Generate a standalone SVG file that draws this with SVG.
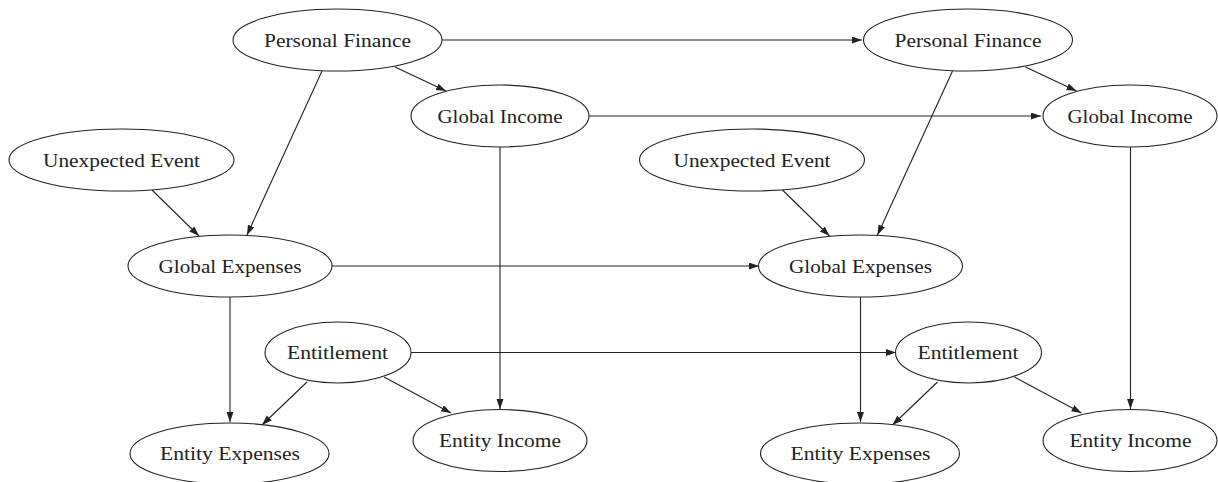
<svg xmlns="http://www.w3.org/2000/svg" width="1218" height="482" viewBox="0 0 1218 482">
<style>
.n ellipse{fill:#fff;stroke:#222;stroke-width:1.1}
.n text{font-family:"Liberation Serif","Times New Roman",serif;font-size:18px;fill:#222;text-anchor:middle}
.e line{stroke:#222;stroke-width:1.1;fill:none;marker-end:url(#ah)}
</style>
<defs>
<marker id="ah" markerUnits="userSpaceOnUse" markerWidth="11" markerHeight="8" refX="10" refY="3.5" orient="auto">
<path d="M0,0 L10,3.5 L0,7 z" fill="#222"/>
</marker>
</defs>
<rect width="1218" height="482" fill="#fff"/>
<g class="e" id="connectors">
<line x1="442" y1="40" x2="862" y2="40"/>
<line x1="589" y1="116" x2="1041" y2="116"/>
<line x1="332" y1="266" x2="759" y2="266"/>
<line x1="411" y1="352.5" x2="896" y2="352.5"/>
<line x1="395" y1="67" x2="446" y2="91"/>
<line x1="322" y1="71" x2="247" y2="235"/>
<line x1="152" y1="190" x2="199" y2="236"/>
<line x1="230" y1="297" x2="230" y2="422"/>
<line x1="500" y1="147" x2="500" y2="409"/>
<line x1="307" y1="382" x2="262" y2="425"/>
<line x1="384" y1="377" x2="451" y2="413"/>
<line x1="1025.5" y1="67" x2="1076.5" y2="91"/>
<line x1="952.5" y1="71" x2="877.5" y2="235"/>
<line x1="782.5" y1="190" x2="829.5" y2="236"/>
<line x1="860.5" y1="297" x2="860.5" y2="422"/>
<line x1="1130.5" y1="147" x2="1130.5" y2="409"/>
<line x1="937.5" y1="382" x2="892.5" y2="425"/>
<line x1="1014.5" y1="377" x2="1081.5" y2="413"/>
</g>
<g class="n" id="pf1"><ellipse cx="337.5" cy="40" rx="104.5" ry="31"/><text x="337.5" y="46.5" textLength="147" lengthAdjust="spacingAndGlyphs">Personal Finance</text></g>
<g class="n" id="gi1"><ellipse cx="500" cy="116" rx="89" ry="31"/><text x="500" y="122.5" textLength="125" lengthAdjust="spacingAndGlyphs">Global Income</text></g>
<g class="n" id="ue1"><ellipse cx="121.5" cy="160" rx="112.5" ry="31"/><text x="121.5" y="166.5" textLength="157" lengthAdjust="spacingAndGlyphs">Unexpected Event</text></g>
<g class="n" id="ge1"><ellipse cx="230" cy="266" rx="102" ry="31"/><text x="230" y="272.5" textLength="143" lengthAdjust="spacingAndGlyphs">Global Expenses</text></g>
<g class="n" id="ent1"><ellipse cx="338" cy="352.5" rx="73" ry="30.5"/><text x="337.5" y="359" textLength="101" lengthAdjust="spacingAndGlyphs">Entitlement</text></g>
<g class="n" id="ee1"><ellipse cx="229.5" cy="453.5" rx="99.5" ry="30.5"/><text x="230" y="459.5" textLength="140" lengthAdjust="spacingAndGlyphs">Entity Expenses</text></g>
<g class="n" id="ei1"><ellipse cx="500" cy="440.5" rx="87" ry="31"/><text x="500" y="447" textLength="122" lengthAdjust="spacingAndGlyphs">Entity Income</text></g>
<g class="n" id="pf2"><ellipse cx="968" cy="40" rx="104.5" ry="31"/><text x="968" y="46.5" textLength="147" lengthAdjust="spacingAndGlyphs">Personal Finance</text></g>
<g class="n" id="gi2"><ellipse cx="1130" cy="116" rx="87" ry="31"/><text x="1130" y="122.5" textLength="125" lengthAdjust="spacingAndGlyphs">Global Income</text></g>
<g class="n" id="ue2"><ellipse cx="752" cy="160" rx="112.5" ry="31"/><text x="752" y="166.5" textLength="157" lengthAdjust="spacingAndGlyphs">Unexpected Event</text></g>
<g class="n" id="ge2"><ellipse cx="860.5" cy="266" rx="102" ry="31"/><text x="860.5" y="272.5" textLength="143" lengthAdjust="spacingAndGlyphs">Global Expenses</text></g>
<g class="n" id="ent2"><ellipse cx="968.5" cy="352.5" rx="73" ry="30.5"/><text x="968" y="359" textLength="101" lengthAdjust="spacingAndGlyphs">Entitlement</text></g>
<g class="n" id="ee2"><ellipse cx="860" cy="453.5" rx="99.5" ry="30.5"/><text x="860.5" y="459.5" textLength="140" lengthAdjust="spacingAndGlyphs">Entity Expenses</text></g>
<g class="n" id="ei2"><ellipse cx="1130" cy="440.5" rx="87" ry="31"/><text x="1130.5" y="447" textLength="122" lengthAdjust="spacingAndGlyphs">Entity Income</text></g>
</svg>
